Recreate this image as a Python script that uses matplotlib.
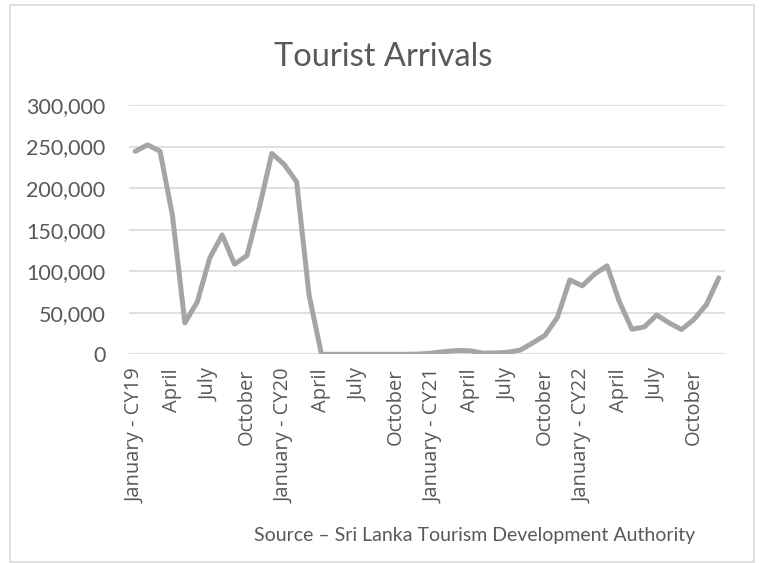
import matplotlib
matplotlib.use("Agg")
import matplotlib.pyplot as plt
from matplotlib.patches import Rectangle
from matplotlib.ticker import FuncFormatter

months = ["January - CY19", "February", "March", "April", "May", "June", "July", "August", "September", "October", "November", "December",
          "January - CY20", "February", "March", "April", "May", "June", "July", "August", "September", "October", "November", "December",
          "January - CY21", "February", "March", "April", "May", "June", "July", "August", "September", "October", "November", "December",
          "January - CY22", "February", "March", "April", "May", "June", "July", "August", "September", "October", "November", "December"]

arrivals = [244239, 252033, 244328, 166975, 37802, 63072, 115701, 143587, 108575, 118743, 176984, 241663,
            228434, 207507, 71370, 0, 0, 0, 0, 0, 0, 0, 0, 393,
            1682, 3366, 4581, 4168, 1497, 1614, 2429, 5040, 13547, 22771, 44294, 89506,
            82327, 96507, 106500, 62980, 30207, 32856, 47293, 37760, 29802, 42026, 59759, 91961]

yticks = [0, 50000, 100000, 150000, 200000, 250000, 300000]

W, H = 759, 563
fig = plt.figure(figsize=(W / 100, H / 100), dpi=100)
plt.rcParams['font.family'] = ['Lato', 'DejaVu Sans']

text_color = '#595959'

# chart border
fig.patches.append(Rectangle((10 / W, 1 - 562 / H), 744 / W, 557 / H, transform=fig.transFigure,
                             fill=False, edgecolor='#D9D9D9', linewidth=1.2))

ax = fig.add_axes([129 / W, 1 - 354.3 / H, 596 / W, (354.3 - 105) / H])
x = list(range(len(arrivals)))
ax.plot(x, arrivals, color='#A5A5A5', linewidth=3.6, solid_joinstyle='round', solid_capstyle='round', zorder=3)

ax.set_xlim(-0.5, len(arrivals) - 0.5)
ax.set_ylim(0, 300000)
ax.set_yticks(yticks)
ax.yaxis.set_major_formatter(FuncFormatter(lambda v, p: f"{int(v):,}"))
ax.set_xticks(x[::3])
ax.set_xticklabels(months[::3], rotation=90, va='top', ha='center',
                   family=['Open Sans', 'DejaVu Sans'], fontsize=14.5)
ax.tick_params(axis='both', length=0, colors=text_color)
ax.tick_params(axis='y', labelsize=15.5, pad=17)
ax.tick_params(axis='x', pad=10)
ax.grid(axis='y', color='#D9D9D9', linewidth=1.2)
ax.set_axisbelow(True)
for s in ax.spines.values():
    s.set_visible(False)

fig.text(383 / W, 1 - 57 / H, "Tourist Arrivals", ha='center', va='center', fontsize=23.5, color=text_color)
fig.text(475 / W, 1 - 535 / H, "Source \u2013 Sri Lanka Tourism Development Authority", ha='center', va='center',
         fontsize=14, color=text_color)

fig.savefig("out.png", dpi=100)
